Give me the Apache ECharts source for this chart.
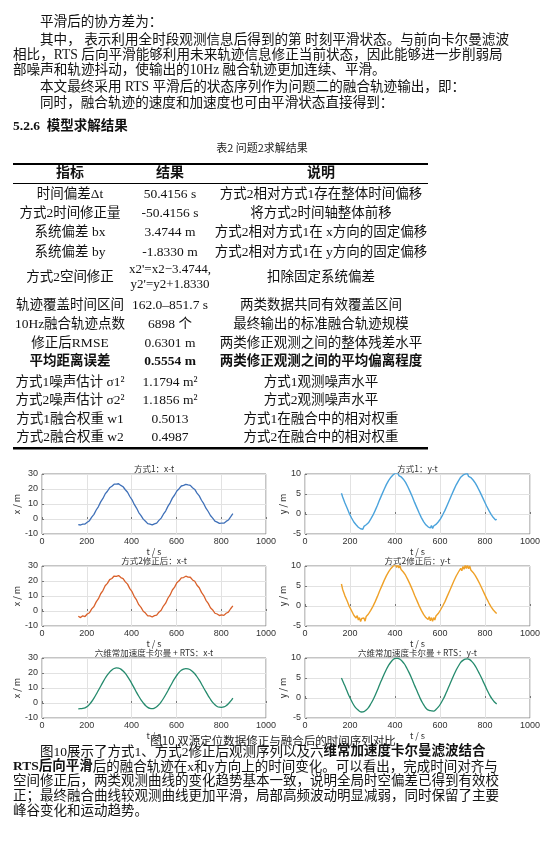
<!DOCTYPE html>
<html><head><meta charset="utf-8">
<script src="https://cdn.jsdelivr.net/npm/echarts@6/dist/echarts.min.js"></script>
<style>html,body{margin:0;padding:0;background:#fff}#c{width:552px;height:847px}</style>
</head><body><div id="c"></div>
<script>
// ---------------- DATA ----------------
const timesA = [162,172,182,192,202,212,222,232,242,252,262,272,282,292,302,312,322,332,342,352,
362,372,382,392,402,412,422,432,442,452,462,472,482,492,502,512,522,532,542,552,
562,572,582,592,602,612,622,632,642,652,662,672,682,692,702,712,722,732,742,752,
762,772,782,792,802,812,822,832,842,852];
const timesB = [162,167,172,177,182,187,192,197,202,207,212,217,222,227,232,237,242,247,252,257,
262,267,272,277,282,287,292,297,302,307,312,317,322,327,332,337,342,347,352,357,
362,367,372,377,382,387,392,397,402,407,412,417,422,427,432,437,442,447,452,457,
462,467,472,477,482,487,492,497,502,507,512,517,522,527,532,537,542,547,552,557,
562,567,572,577,582,587,592,597,602,607,612,617,622,627,632,637,642,647,652,657,
662,667,672,677,682,687,692,697,702,707,712,717,722,727,732,737,742,747,752,757,
762,767,772,777,782,787,792,797,802,807,812,817,822,827,832,837,842,847,852];

// 方式1 x-t
const xObs1 = [-3.7,-4.0,-3.4,-3.4,-2.2,-1.1,1.2,3.1,6.0,8.3,
11.4,13.7,16.7,18.5,20.8,21.8,23.2,23.2,23.5,22.4,
21.5,19.5,17.8,15.0,12.8,9.7,7.3,4.3,2.3,-0.1,
-1.5,-3.1,-3.4,-3.9,-3.2,-2.7,-0.9,0.6,3.2,5.3,
8.4,10.8,13.9,16.0,18.7,20.2,22.0,22.4,23.1,22.7,
22.4,20.8,19.7,17.3,15.4,12.5,10.2,7.2,5.0,2.3,
0.6,-1.4,-2.1,-2.9,-2.7,-2.8,-1.6,-0.7,1.4,3.6];
// 方式2修正后 x-t
const xObs2 = [-3.5,-4.4,-3.2,-3.7,-2.0,-1.2,1.4,3.0,6.1,8.2,
11.5,13.6,16.8,18.4,20.9,21.7,23.3,23.1,23.6,22.3,
21.6,19.4,17.9,14.9,12.9,9.6,7.4,4.2,2.4,-0.2,
-1.4,-3.2,-3.3,-4.0,-3.1,-2.8,-0.8,0.5,3.3,5.2,
8.5,10.7,14.0,15.9,18.8,20.1,22.1,22.3,23.2,22.6,
22.5,20.7,19.8,17.2,15.5,12.4,10.3,7.1,5.1,2.2,
0.7,-1.5,-2.0,-3.0,-2.6,-2.9,-1.5,-0.8,1.5,3.4];
// 融合 x-t
const xFused = [-3.9,-3.8,-3.6,-3.2,-2.4,-0.9,1.0,3.3,5.8,8.5,
11.2,13.9,16.5,18.7,20.6,22.0,23.0,23.4,23.3,22.6,
21.3,19.7,17.6,15.2,12.6,9.9,7.1,4.5,2.1,0.1,
-1.7,-2.9,-3.6,-3.8,-3.4,-2.5,-1.1,0.8,3.0,5.5,
8.2,11.0,13.7,16.2,18.5,20.4,21.8,22.6,22.9,22.8,
22.2,21.0,19.5,17.5,15.2,12.7,10.0,7.4,4.8,2.5,
0.4,-1.2,-2.3,-2.8,-2.9,-2.6,-1.8,-0.5,1.2,3.3];
// 方式1 y-t
const yObs1 = [5.2,4.3,3.9,2.8,2.6,1.5,1.2,0.1,0.1,-1.0,
-1.0,-2.0,-1.9,-2.7,-2.5,-3.3,-3.0,-3.7,-3.2,-3.8,
-3.1,-3.5,-2.7,-2.9,-2.2,-2.1,-1.3,-1.1,-0.3,0.0,
0.9,1.2,2.2,2.6,3.6,3.9,4.9,5.2,6.2,6.5,
7.4,7.6,8.4,8.5,9.2,9.2,9.8,9.6,10.2,9.7,
10.3,9.6,10.0,9.3,9.5,8.7,8.8,7.9,7.8,6.8,
6.7,5.6,5.5,4.3,4.1,2.9,2.8,1.6,1.5,0.3,
0.2,-0.9,-0.9,-1.9,-1.8,-2.7,-2.5,-3.2,-2.8,-3.5,
-2.9,-3.6,-3.0,-3.4,-2.6,-2.9,-2.0,-2.1,-1.2,-1.2,
-0.2,-0.1,0.9,1.0,2.2,2.3,3.5,3.6,4.8,4.9,
6.1,6.1,7.3,7.2,8.3,8.2,9.2,8.9,9.7,9.3,
10.0,9.5,10.1,9.4,9.9,9.1,9.4,8.5,8.7,7.7,
7.8,6.7,6.7,5.6,5.6,4.4,4.4,3.2,3.2,2.0,
2.0,0.9,0.9,-0.1,-0.1,-0.9,-0.8,-1.5,-1.3];
// 方式2修正后 y-t
const yObs2 = [5.5,4.2,4.0,2.6,2.8,1.3,1.4,-0.1,0.2,-1.2,
-0.9,-2.3,-1.8,-3.0,-2.4,-3.5,-2.9,-3.9,-3.1,-3.6,
-3.0,-3.8,-2.6,-3.1,-2.0,-2.3,-1.1,-1.3,-0.1,-0.2,
1.1,1.0,2.4,2.4,3.8,3.7,5.1,5.0,6.4,6.3,
7.6,7.4,8.6,8.3,9.4,9.0,10.0,9.5,10.3,9.6,
10.4,9.5,10.1,9.1,9.6,8.5,8.9,7.7,7.9,6.6,
6.8,5.4,5.6,4.1,4.2,2.7,2.9,1.4,1.6,0.1,
0.3,-1.1,-0.8,-2.1,-1.7,-2.9,-2.4,-3.4,-2.7,-3.7,
-2.9,-3.8,-2.9,-3.5,-2.5,-3.0,-1.9,-2.2,-1.0,-1.3,
0.0,-0.2,1.1,0.9,2.4,2.2,3.7,3.5,5.0,4.8,
6.3,6.0,7.5,7.1,8.5,8.1,9.4,8.8,9.9,9.2,
10.2,9.4,10.2,9.3,10.0,9.0,9.5,8.4,8.8,7.6,
7.9,6.6,6.8,5.5,5.7,4.3,4.5,3.1,3.3,1.9,
2.1,0.8,1.0,-0.2,0.0,-1.0,-0.7,-1.6,-1.9];
// 融合 y-t
const yFused = [5.0,3.7,2.4,1.0,-0.2,-1.3,-2.2,-2.8,-3.3,-3.5,
-3.4,-3.0,-2.4,-1.5,-0.5,0.7,2.0,3.4,4.7,6.0,
7.2,8.2,9.0,9.6,9.9,9.9,9.7,9.2,8.5,7.5,
6.4,5.2,3.8,2.5,1.2,-0.1,-1.2,-2.1,-2.8,-3.1,
-3.2,-3.3,-2.9,-2.3,-1.5,-0.5,0.6,1.9,3.2,4.5,
5.8,7.0,8.0,8.9,9.4,9.7,9.8,9.6,9.1,8.4,
7.5,6.4,5.3,4.1,2.9,1.7,0.6,-0.3,-1.0,-1.5];

const panelTitles = ['方式1：x-t','方式1：y-t','方式2修正后：x-t','方式2修正后：y-t','六维常加速度卡尔曼 + RTS：x-t','六维常加速度卡尔曼 + RTS：y-t'];
const xAxisName = 't / s';
const yAxisNames = ['x / m','y / m'];
const xTickRange = [0, 1000, 200];
const yRangeX = [-10, 30, 10];
const yRangeY = [-5, 10, 5];

const tableHeader = ['指标','结果','说明'];
const tableCol1 = ['时间偏差Δt','方式2时间修正量','系统偏差 bx','系统偏差 by','方式2空间修正','轨迹覆盖时间区间','10Hz融合轨迹点数','修正后RMSE','平均距离误差','方式1噪声估计 σ1²','方式2噪声估计 σ2²','方式1融合权重 w1','方式2融合权重 w2'];
const tableCol2 = ['50.4156 s','-50.4156 s','3.4744 m','-1.8330 m',"x2'=x2−3.4744,\ny2'=y2+1.8330",'162.0–851.7 s','6898 个','0.6301 m','0.5554 m','1.1794 m²','1.1856 m²','0.5013','0.4987'];
const tableCol3 = ['方式2相对方式1存在整体时间偏移','将方式2时间轴整体前移','方式2相对方式1在 x方向的固定偏移','方式2相对方式1在 y方向的固定偏移','扣除固定系统偏差','两类数据共同有效覆盖区间','最终输出的标准融合轨迹规模','两类修正观测之间的整体残差水平','两类修正观测之间的平均偏离程度','方式1观测噪声水平','方式2观测噪声水平','方式1在融合中的相对权重','方式2在融合中的相对权重'];
const boldRow = 8;

const topLines = ['平滑后的协方差为：',
'其中， 表示利用全时段观测信息后得到的第 时刻平滑状态。与前向卡尔曼滤波',
'相比，RTS 后向平滑能够利用未来轨迹信息修正当前状态，因此能够进一步削弱局',
'部噪声和轨迹抖动，使输出的10Hz 融合轨迹更加连续、平滑。',
'本文最终采用 RTS 平滑后的状态序列作为问题二的融合轨迹输出，即：',
'同时，融合轨迹的速度和加速度也可由平滑状态直接得到：'];
const heading = '5.2.6  模型求解结果';
const tableCaption = '表2 问题2求解结果';
const figCaption = '图10 双源定位数据修正与融合后的时间序列对比';
const bottomLines = ['{n|图10展示了方式1、方式2修正后观测序列以及六}{b|维常加速度卡尔曼滤波结合}',
'{b|RTS后向平滑}{n|后的融合轨迹在x和y方向上的时间变化。可以看出，完成时间对齐与}',
'{n|空间修正后，两类观测曲线的变化趋势基本一致，说明全局时空偏差已得到有效校}',
'{n|正；最终融合曲线较观测曲线更加平滑，局部高频波动明显减弱，同时保留了主要}',
'{n|峰谷变化和运动趋势。}'];

// ---------------- LAYOUT / STYLE ----------------
const FONT = "'Liberation Serif','Noto Sans CJK SC'";
const SANS = "'Noto Sans CJK SC','Liberation Sans'";
const colors = ['#3f70b8','#4aa3dc','#d9602a','#efa128','#248a6c','#248a6c'];
const seriesData = [[timesA,xObs1],[timesB,yObs1],[timesA,xObs2],[timesB,yObs2],[timesA,xFused],[timesA,yFused]];
const lineWidths = [1.3,1.4,1.3,1.4,1.3,1.3];

const rowsTop = [474,566,658];
const colsLeft = [42,305];
const plotW = [224,225];
const plotH = 60;

const grids=[], xAxes=[], yAxes=[], series=[], graphics=[];
for (let i=0;i<6;i++){
  const r = Math.floor(i/2), c = i%2;
  grids.push({left:colsLeft[c], top:rowsTop[r], width:plotW[c], height:plotH, show:true, borderColor:'#8a8a8a', borderWidth:1, backgroundColor:'#fff'});
  xAxes.push({gridIndex:i, type:'value', min:xTickRange[0], max:xTickRange[1], interval:xTickRange[2],
    name:xAxisName, nameLocation:'middle', nameGap:8, nameTextStyle:{fontSize:9, color:'#333', fontFamily:SANS},
    axisLine:{show:false}, axisTick:{show:true, inside:true, length:2, lineStyle:{color:'#777'}},
    axisLabel:{fontSize:9, color:'#333', margin:3, fontFamily:'Liberation Sans', formatter:v=>String(v)},
    splitLine:{show:true, lineStyle:{color:'#e2e2e2', width:1}}});
  const yr = c===0 ? yRangeX : yRangeY;
  yAxes.push({gridIndex:i, type:'value', min:yr[0], max:yr[1], interval:yr[2],
    name:yAxisNames[c], nameLocation:'middle', nameGap: c===0?12:10, nameRotate:90,
    nameTextStyle:{fontSize:9, color:'#333', fontFamily:SANS},
    axisLine:{show:false}, axisTick:{show:true, inside:true, length:2, lineStyle:{color:'#777'}},
    axisLabel:{fontSize:9, color:'#333', margin:4, fontFamily:'Liberation Sans', formatter:v=>String(v)},
    splitLine:{show:true, lineStyle:{color:'#e2e2e2', width:1}}});
  const [ts, vs] = seriesData[i];
  series.push({type:'line', xAxisIndex:i, yAxisIndex:i, data: ts.map((t,k)=>[t, vs[k]]),
    showSymbol:false, smooth: i>=4 ? 0.3 : false, lineStyle:{color:colors[i], width:lineWidths[i]}, animation:false, z:3});
  graphics.push({type:'text', x: colsLeft[c] + plotW[c]/2, y: rowsTop[r]-5, z:10,
    style:{text:panelTitles[i], fontSize:8.5, fontFamily:SANS, fill:'#333', textAlign:'center', textVerticalAlign:'middle'}});
}

function txt(text, x, y, opts){
  return Object.assign({type:'text', x:x, y:y, z:10, style:Object.assign({text:text, fontSize:13.6, fontFamily:FONT, fill:'#111', textAlign:'left', textVerticalAlign:'middle'}, opts||{})});
}
// top paragraph
const topPos = [[40,22],[40,40],[13,55],[13,70],[40,87],[40,103]];
topLines.forEach((l,i)=>graphics.push(txt(l, topPos[i][0], topPos[i][1])));
graphics.push(txt(heading, 13, 127, {fontWeight:'bold', fontSize:13.5}));
graphics.push(txt(tableCaption, 262, 148, {fontSize:11, fontFamily:SANS, textAlign:'center', fill:'#222'}));
// table rules
graphics.push({type:'rect', shape:{x:13, y:163, width:415, height:2}, style:{fill:'#000'}});
graphics.push({type:'rect', shape:{x:13, y:183, width:415, height:1}, style:{fill:'#000'}});
graphics.push({type:'rect', shape:{x:13, y:447, width:415, height:2.5}, style:{fill:'#000'}});
const colX = [70,170,321];
tableHeader.forEach((h,i)=>graphics.push(txt(h, colX[i], 173, {textAlign:'center', fontWeight:'bold', fontSize:14})));
const rowY = [194,213,232,252,277.5,305,324,343,362,382,400,419,437];
for (let r=0;r<tableCol1.length;r++){
  const o = {textAlign:'center', fontSize:13.5, lineHeight:15};
  if (r===boldRow) o.fontWeight='bold';
  graphics.push(txt(tableCol1[r], colX[0], rowY[r], o));
  graphics.push(txt(tableCol2[r], colX[1], rowY[r], Object.assign({}, o, r===4?{fontSize:13}:{})));
  graphics.push(txt(tableCol3[r], colX[2], rowY[r], o));
}
// figure caption
graphics.push(txt(figCaption, 273, 741, {fontSize:11.5, fontFamily:SANS, textAlign:'center', fill:'#222'}));
// bottom paragraph
const botPos = [[40,752],[13,767],[13,781],[13,796],[13,811]];
bottomLines.forEach((l,i)=>graphics.push({type:'text', x:botPos[i][0], y:botPos[i][1], z:10,
  style:{text:l, textVerticalAlign:'middle', textAlign:'left', fill:'#111',
    rich:{n:{fontSize:13.5, fontFamily:FONT, fill:'#111'}, b:{fontSize:13.5, fontFamily:FONT, fontWeight:'bold', fill:'#111'}}}}));

const chart = echarts.init(document.getElementById('c'), null, {renderer:'canvas'});
chart.setOption({animation:false, backgroundColor:'#fff', grid:grids, xAxis:xAxes, yAxis:yAxes, series:series, graphic:graphics});
</script></body></html>
